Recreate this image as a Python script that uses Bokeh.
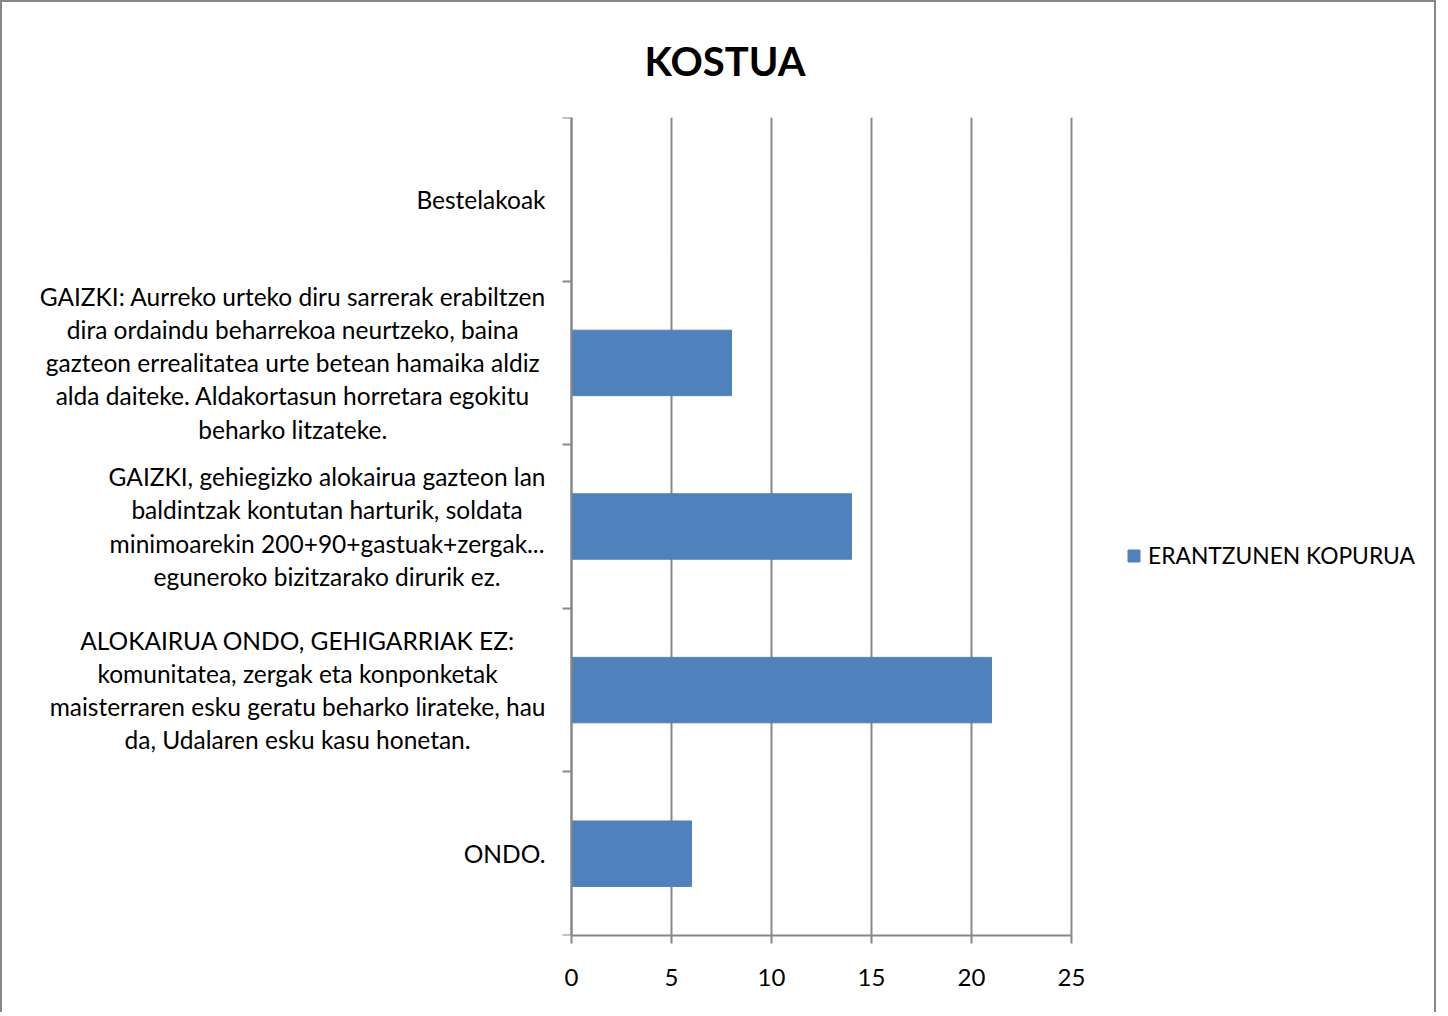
import glob
from bokeh.plotting import figure
from bokeh.models import FixedTicker, Legend, LegendItem, Range1d, ColumnDataSource
from bokeh.core.properties import value
from bokeh.embed import file_html
from bokeh.resources import INLINE

title_text = "KOSTUA"
series_name = "ERANTZUNEN KOPURUA"
categories = [
    "ONDO.",
    "ALOKAIRUA ONDO, GEHIGARRIAK EZ:\nkomunitatea, zergak eta konponketak\nmaisterraren esku geratu beharko lirateke, hau\nda, Udalaren esku kasu honetan.",
    "GAIZKI, gehiegizko alokairua gazteon lan\nbaldintzak kontutan harturik, soldata\nminimoarekin 200+90+gastuak+zergak...\neguneroko bizitzarako dirurik ez.",
    "GAIZKI: Aurreko urteko diru sarrerak erabiltzen\ndira ordaindu beharrekoa neurtzeko, baina\ngazteon errealitatea urte betean hamaika aldiz\nalda daiteke. Aldakortasun horretara egokitu\nbeharko litzateke.",
    "Bestelakoak",
]
values = [6, 21, 14, 8, 0]
x_ticks = [0, 5, 10, 15, 20, 25]

FONT = "Lato"
LABEL_SIZE = 24.5
GRAY = "#888888"
BAR = "#4F81BD"

# ---- layout constants (pixels) ----
W, H = 1436, 1012
BL, BR, BT, BB = 20, 10, 115, 79
FRAME_W = W - BL - BR
ZERO_PX = 549          # where x=0 sits, from the frame's left edge
PX_PER_UNIT = 20
LABEL_GAP = 26

n = len(categories)
centers = [i + 0.5 for i in range(n)]
bounds = list(range(n + 1))

# measure label widths to right-align blocks while centring their lines
def measurer():
    try:
        from PIL import ImageFont
        paths = glob.glob("/usr/share/fonts/**/Lato-Regular.ttf", recursive=True)
        if paths:
            f = ImageFont.truetype(paths[0], 245)
            return lambda s: f.getlength(s) / 10.0
    except Exception:
        pass
    return lambda s: len(s) * LABEL_SIZE * 0.5

measure = measurer()
block_w = [max(measure(line) for line in c.split("\n")) for c in categories]
offsets = [-(LABEL_GAP + w / 2.0) for w in block_w]

x0 = -ZERO_PX / PX_PER_UNIT
p = figure(width=W, height=H, output_backend="svg", toolbar_location=None,
           x_range=Range1d(x0, x0 + FRAME_W / PX_PER_UNIT), y_range=Range1d(0, n),
           min_border_left=BL, min_border_right=BR, min_border_top=BT, min_border_bottom=BB)
p.styles = {"border-top": "2px solid #878787", "border-left": "2px solid #878787",
            "border-right": "2px solid #878787"}
p.outline_line_color = None
p.background_fill_color = "white"
p.border_fill_color = "white"

p.title.text = title_text
p.title.align = "left"
p.title.offset = 622
p.title.standoff = 65
p.title.text_font = FONT
p.title.text_font_size = "40px"
p.title.text_font_style = "bold"
p.title.text_color = "black"

p.xgrid.ticker = FixedTicker(ticks=x_ticks)
p.xgrid.grid_line_color = GRAY
p.xgrid.grid_line_width = 2
p.ygrid.grid_line_color = None

r = p.hbar(y=centers, right=values, left=0, height=0.4, color=BAR)

src = ColumnDataSource(dict(x=[0] * n, y=centers, text=categories, xo=offsets))
p.text(x="x", y="y", text="text", x_offset="xo", source=src, text_align="center",
       text_baseline="middle", text_font=value(FONT), text_font_size=value(f"{LABEL_SIZE}px"),
       text_color="black", text_line_height=1.14)

# x axis
p.xaxis.ticker = FixedTicker(ticks=x_ticks)
p.xaxis.bounds = (0, 25)
p.xaxis.axis_line_color = GRAY
p.xaxis.axis_line_width = 2
p.xaxis.major_tick_line_color = GRAY
p.xaxis.major_tick_line_width = 2
p.xaxis.major_tick_out = 8
p.xaxis.major_tick_in = 0
p.xaxis.minor_tick_line_color = None
p.xaxis.major_label_text_font = FONT
p.xaxis.major_label_text_font_size = "24px"
p.xaxis.major_label_text_color = "black"
p.xaxis.major_label_standoff = 25

# y axis (at x = 0, ticks on category boundaries)
p.yaxis.fixed_location = 0
p.yaxis.ticker = FixedTicker(ticks=[], minor_ticks=bounds)
p.yaxis.bounds = (0, n)
p.yaxis.axis_line_color = GRAY
p.yaxis.axis_line_width = 2
p.yaxis.major_tick_line_color = None
p.yaxis.minor_tick_line_color = GRAY
p.yaxis.minor_tick_line_width = 2
p.yaxis.minor_tick_out = 9
p.yaxis.minor_tick_in = 0
p.yaxis.major_label_text_font_size = "0px"

legend = Legend(items=[LegendItem(label=series_name, renderers=[r])],
                location=(ZERO_PX + 555, 366), padding=0, margin=0, border_line_color=None,
                background_fill_alpha=0, glyph_width=15, glyph_height=15, label_standoff=7,
                label_text_font=FONT, label_text_font_size="22.8px", label_text_color="black")
p.add_layout(legend)

open("out.html", "w").write(file_html(p, INLINE))
